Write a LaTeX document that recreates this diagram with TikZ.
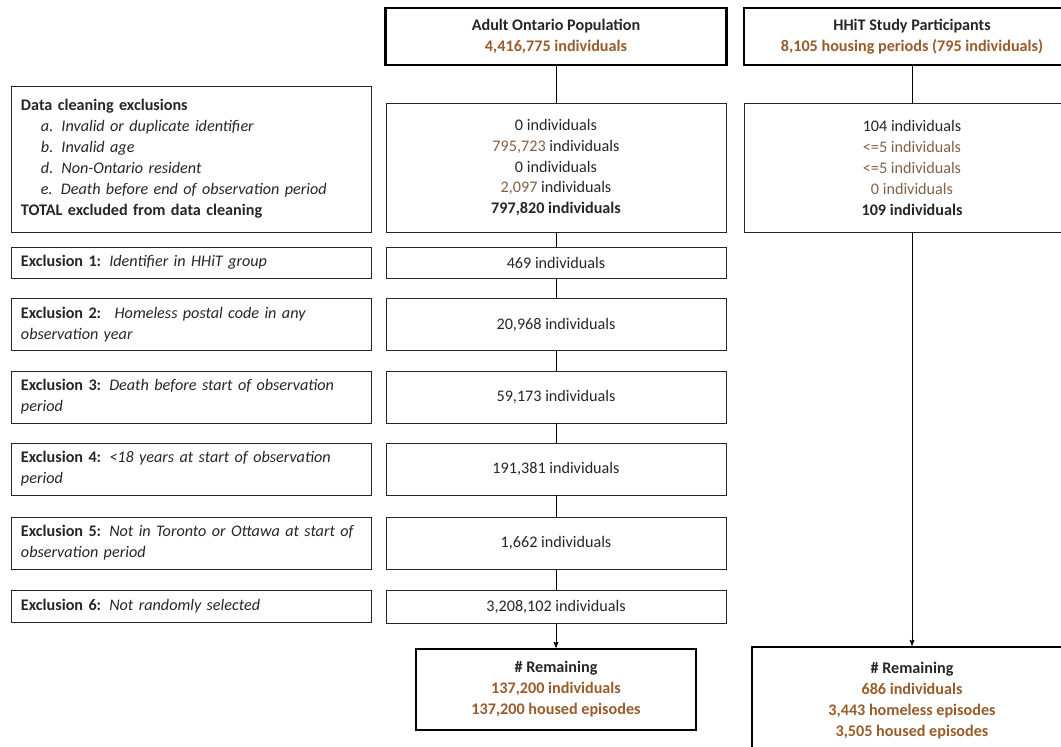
\documentclass[tikz,border=0pt]{standalone}
\usepackage{fontspec}
\setmainfont{Carlito}
\usepackage{tikz}
\usetikzlibrary{arrows,positioning}
\definecolor{ink}{RGB}{38,38,38}
\definecolor{tally}{RGB}{152,92,42}
\definecolor{faint}{RGB}{130,98,70}
\tikzset{
    %Define standard arrow tip
    >=stealth',
    every node/.style={text=ink, font=\fontsize{13.8}{17.9}\selectfont},
    excl/.style={
      rectangle,
      draw=black!85, line width=0.8pt,
      text width=10.2cm,
      inner xsep=0.3cm, inner ysep=0pt,
      align=left},
    count/.style={
      rectangle,
      draw=black!85, line width=0.8pt,
      minimum width=10.2cm,
      inner sep=0pt,
      align=center},
    stage/.style={
      rectangle,
      draw=black, line width=2.4pt,
      inner sep=0pt,
      align=center,
      font=\fontsize{13.8}{17.9}\selectfont\bfseries},
}

\begin{document}
\begin{tikzpicture}[x=0.03cm, y=-0.03cm]
    \useasboundingbox (0,0) rectangle (1061,746);
    % population boxes
    \node (pop) [stage, minimum width=10.23cm, minimum height=1.71cm] at (556,36.5)
          {Adult Ontario Population\\ \textcolor{tally}{4,416,775 individuals}};
    \node (hhit) [stage, minimum width=10.08cm, minimum height=1.71cm] at (912,36.5)
          {HHiT Study Participants\\ \textcolor{tally}{8,105 housing periods (795 individuals)}};
    % data cleaning
    \node (dc) [excl, minimum height=4.38cm] at (191,159)
          {\textbf{Data cleaning exclusions}\\
           \hspace*{0.6cm}\textit{a. Invalid or duplicate identifier}\\
           \hspace*{0.6cm}\textit{b. Invalid age}\\
           \hspace*{0.6cm}\textit{d. Non-Ontario resident}\\
           \hspace*{0.6cm}\textit{e. Death before end of observation period}\\
           \textbf{TOTAL excluded from data cleaning}};
    \node (dcpop) [count, minimum height=3.87cm] at (556,167.5)
          {0 individuals\\
           \textcolor{faint}{795,723} individuals\\
           0 individuals\\
           \textcolor{faint}{2,097} individuals\\
           \textbf{797,820 individuals}};
    \node (dchhit) [count, minimum width=10.05cm, minimum height=3.87cm] at (912,167.5)
          {104 individuals\\
           \textcolor{faint}{<=5 individuals}\\
           \textcolor{faint}{<=5 individuals}\\
           \textcolor{faint}{0 individuals}\\
           \textbf{109 individuals}};
    % exclusions
    \node (e1) [excl, minimum height=0.93cm] at (191,262.5)
          {\textbf{Exclusion 1:} \textit{Identifier in HHiT group}};
    \node (n1) [count, minimum height=0.93cm] at (556,262.5) {469 individuals};
    \node (e2) [excl, minimum height=1.56cm] at (191,324.5)
          {\textbf{Exclusion 2:}~ \textit{Homeless postal code in any}\\ \textit{observation year}};
    \node (n2) [count, minimum height=1.56cm] at (556,324.5) {20,968 individuals};
    \node (e3) [excl, minimum height=1.56cm] at (191,397)
          {\textbf{Exclusion 3:} \textit{Death before start of observation}\\ \textit{period}};
    \node (n3) [count, minimum height=1.56cm] at (556,397) {59,173 individuals};
    \node (e4) [excl, minimum height=1.56cm] at (191,469)
          {\textbf{Exclusion 4:} \textit{<18 years at start of observation}\\ \textit{period}};
    \node (n4) [count, minimum height=1.56cm] at (556,469) {191,381 individuals};
    \node (e5) [excl, minimum height=1.56cm] at (191,543)
          {\textbf{Exclusion 5:} \textit{Not in Toronto or Ottawa at start of}\\ \textit{observation period}};
    \node (n5) [count, minimum height=1.56cm] at (556,543) {1,662 individuals};
    \node (e6) [excl, minimum height=0.96cm] at (191,606)
          {\textbf{Exclusion 6:} \textit{Not randomly selected}};
    \node (n6) [count, minimum height=0.99cm] at (556,607) {3,208,102 individuals};
    % remaining
    \node (rpop) [stage, minimum width=8.4cm, minimum height=2.43cm] at (556,689.5)
          {\# Remaining\\
           \textcolor{tally}{137,200 individuals}\\
           \textcolor{tally}{137,200 housed episodes}};
    \node (rhhit) [stage, minimum width=9.6cm, minimum height=3.24cm] at (912,701)
          {\# Remaining\\
           \textcolor{tally}{686 individuals}\\
           \textcolor{tally}{3,443 homeless episodes}\\
           \textcolor{tally}{3,505 housed episodes}};
    % connectors
    \foreach \a/\b in {pop/dcpop, dcpop/n1, n1/n2, n2/n3, n3/n4, n4/n5, n5/n6, hhit/dchhit}
      \draw [line width=0.8pt] (\a) -- (\b);
    \draw [->, line width=0.8pt] (n6) -- (rpop);
    \draw [->, line width=0.8pt] (dchhit) -- (rhhit);
\end{tikzpicture}
\end{document}
